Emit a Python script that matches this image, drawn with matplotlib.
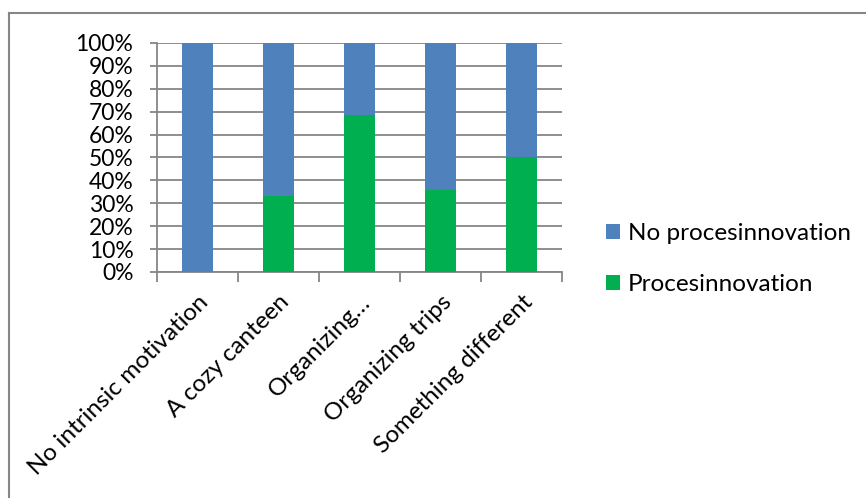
import numpy as np
import matplotlib
matplotlib.use('Agg')
import matplotlib.pyplot as plt
from matplotlib.lines import Line2D

plt.rcParams['font.family'] = ['Lato', 'DejaVu Sans']

# data
categories = ['No intrinsic motivation', 'A cozy canteen', 'Organizing…',
              'Organizing trips', 'Something different']
proces = np.array([0.0, 33.2, 68.7, 36.0, 50.0])
no_proces = 100 - proces

BLUE = '#4f81bd'
GREEN = '#00b050'
GRID = '#868686'

fig = plt.figure(figsize=(8.66, 4.98), dpi=100)
ax = fig.add_axes([157/866, 1 - 272/498, (562-157)/866, (272-43)/498])

x = np.arange(len(categories))
ax.bar(x, proces, width=0.39, color=GREEN, label='Procesinnovation', zorder=3)
ax.bar(x, no_proces, bottom=proces, width=0.39, color=BLUE,
       label='No procesinnovation', zorder=3)

ax.set_xlim(-0.5, len(categories) - 0.5)
ax.set_ylim(0, 100)
ax.set_yticks(np.arange(0, 101, 10))
ax.set_yticklabels([f'{v}%' for v in range(0, 101, 10)], fontsize=16.5)
ax.yaxis.grid(True, color=GRID, linewidth=1.3, zorder=0)
ax.tick_params(axis='y', length=5, color=GRID, width=1.3, pad=12)

# category ticks at the boundaries
ax.set_xticks(np.arange(-0.5, len(categories), 1.0), minor=False)
ax.set_xticklabels([])
ax.tick_params(axis='x', length=7, color=GRID, width=1.3)
ax.set_xticks(x, minor=True)
ax.set_xticklabels(categories, minor=True, rotation=45, ha='right',
                   rotation_mode='anchor', fontsize=17.5)
ax.tick_params(axis='x', which='minor', length=0, pad=14)

for s in ['top', 'right']:
    ax.spines[s].set_visible(False)
for s in ['left', 'bottom']:
    ax.spines[s].set_color(GRID)
    ax.spines[s].set_linewidth(1.3)

handles, labels = ax.get_legend_handles_labels()
fig.legend(handles[::-1], labels[::-1], loc='center left',
           bbox_to_anchor=(584/866, 1 - 259/498), frameon=False,
           fontsize=17.5, handlelength=0.6, handleheight=0.6,
           handletextpad=0.3, labelspacing=1.25)

# outer chart border (only top and left visible)
fig.lines.append(Line2D([9/866, 1], [1 - 13/498, 1 - 13/498],
                        transform=fig.transFigure, color=GRID, linewidth=1.5))
fig.lines.append(Line2D([9/866, 9/866], [0, 1 - 13/498],
                        transform=fig.transFigure, color=GRID, linewidth=1.5))

fig.savefig('out.png', dpi=100)
